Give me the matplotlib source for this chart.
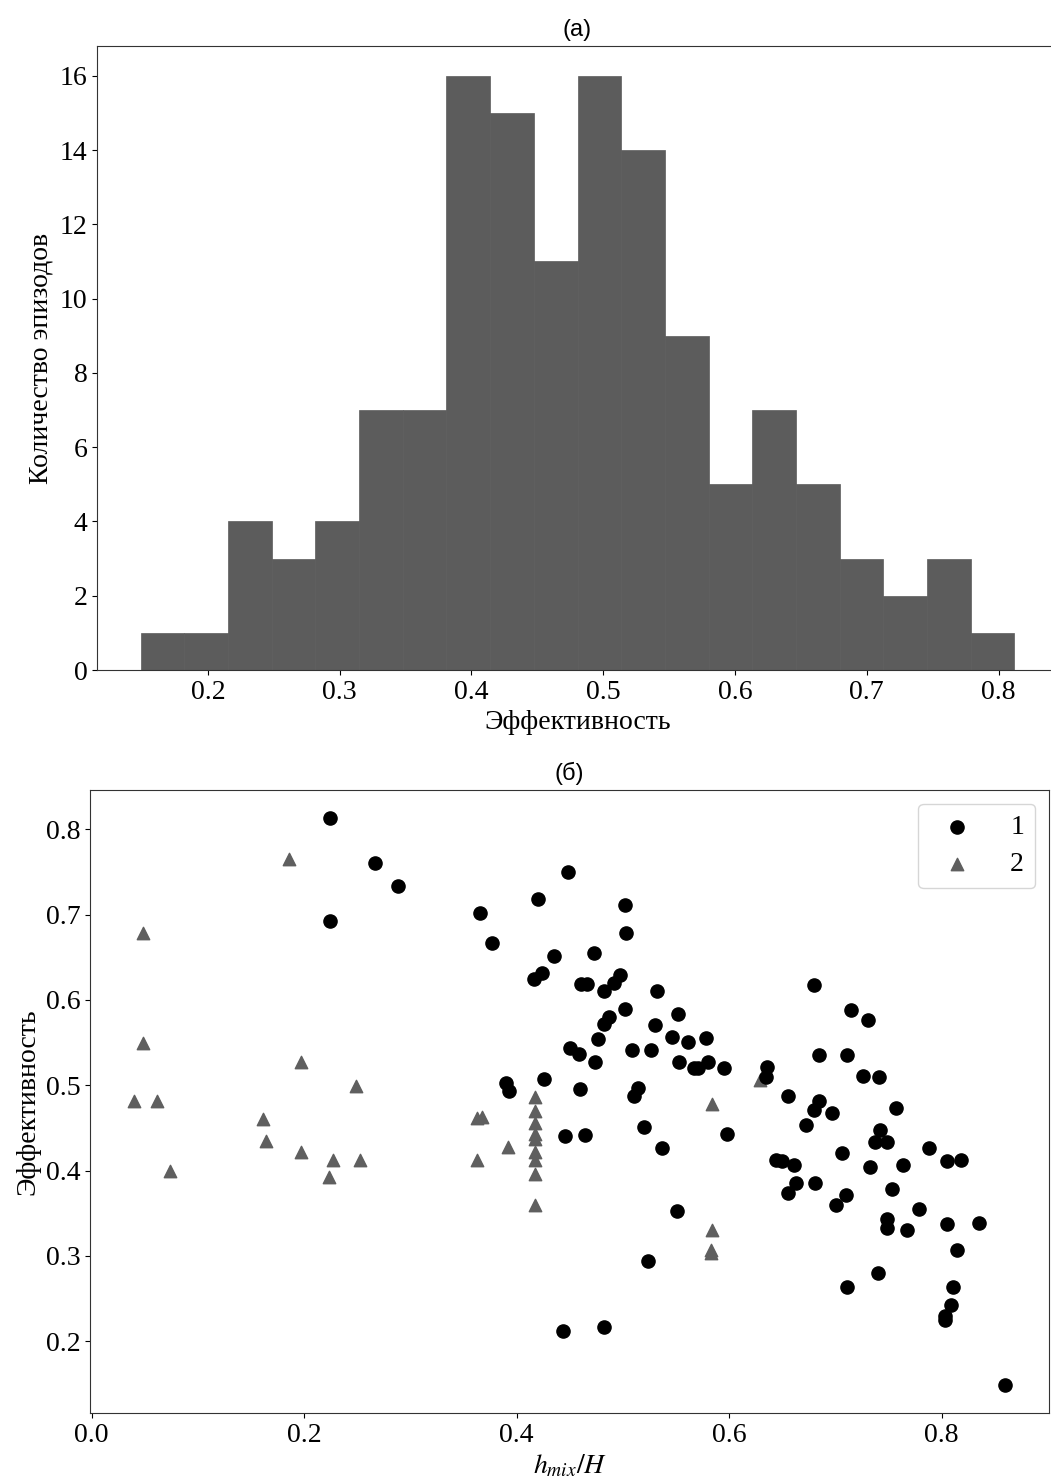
import numpy as np
import matplotlib
matplotlib.use("Agg")
import matplotlib.pyplot as plt

plt.rcParams["font.family"] = ["Liberation Serif", "DejaVu Serif"]
plt.rcParams["mathtext.fontset"] = "stix"

# (а) гистограмма эффективности: число эпизодов в 20 интервалах
counts = [1, 1, 4, 3, 4, 7, 7, 16, 15, 11, 16, 14, 9, 5, 7, 5, 3, 2, 3, 1]
eff_min, eff_max = 0.149, 0.812

# (б) эффективность от h_mix/H, группа 1 (кружки)
x1 = [0.224, 0.267, 0.288, 0.224,
      0.448, 0.420, 0.366, 0.502, 0.503, 0.377, 0.435, 0.473, 0.424, 0.416,
      0.461, 0.466, 0.482, 0.497, 0.492, 0.532, 0.502, 0.487, 0.482, 0.552,
      0.530, 0.477, 0.450, 0.459, 0.474, 0.509, 0.526, 0.546, 0.561, 0.578,
      0.553, 0.567, 0.571, 0.580, 0.595, 0.390, 0.393, 0.426, 0.460, 0.514,
      0.510, 0.520, 0.446, 0.464, 0.598,
      0.537, 0.551, 0.524, 0.444, 0.482,
      0.680, 0.715, 0.731, 0.685, 0.711, 0.636, 0.635, 0.726, 0.741, 0.655,
      0.685, 0.680, 0.697, 0.757, 0.672, 0.742, 0.737, 0.749, 0.788, 0.706,
      0.644, 0.650, 0.661, 0.733, 0.764, 0.805, 0.818, 0.663, 0.655, 0.681,
      0.753, 0.710,
      0.701, 0.779, 0.749, 0.749, 0.767, 0.805, 0.835, 0.814, 0.740, 0.711,
      0.811, 0.809, 0.803, 0.803, 0.860]
y1 = [0.813, 0.761, 0.734, 0.693,
      0.750, 0.718, 0.702, 0.711, 0.679, 0.667, 0.651, 0.655, 0.632, 0.625,
      0.619, 0.619, 0.610, 0.629, 0.620, 0.610, 0.589, 0.580, 0.572, 0.584,
      0.571, 0.554, 0.544, 0.537, 0.527, 0.541, 0.541, 0.557, 0.551, 0.555,
      0.527, 0.520, 0.520, 0.527, 0.520, 0.503, 0.493, 0.507, 0.496, 0.497,
      0.487, 0.451, 0.441, 0.442, 0.443,
      0.426, 0.353, 0.294, 0.212, 0.217,
      0.617, 0.588, 0.577, 0.535, 0.535, 0.521, 0.510, 0.511, 0.510, 0.487,
      0.481, 0.471, 0.467, 0.473, 0.453, 0.448, 0.434, 0.433, 0.426, 0.421,
      0.413, 0.411, 0.407, 0.404, 0.406, 0.411, 0.413, 0.386, 0.374, 0.385,
      0.379, 0.371,
      0.360, 0.355, 0.343, 0.333, 0.330, 0.337, 0.339, 0.307, 0.280, 0.263,
      0.264, 0.243, 0.229, 0.225, 0.149]

# группа 2 (треугольники)
x2 = [0.186, 0.048, 0.048, 0.040, 0.062, 0.074, 0.197, 0.249, 0.161, 0.164,
      0.197, 0.227, 0.223, 0.253, 0.363, 0.367, 0.363, 0.392,
      0.417, 0.417, 0.417, 0.417, 0.417, 0.417, 0.417, 0.417, 0.417,
      0.584, 0.584, 0.583, 0.583, 0.629]
y2 = [0.765, 0.678, 0.549, 0.481, 0.481, 0.400, 0.527, 0.499, 0.460, 0.435,
      0.422, 0.412, 0.393, 0.413, 0.462, 0.463, 0.412, 0.428,
      0.486, 0.470, 0.456, 0.443, 0.437, 0.422, 0.412, 0.396, 0.360,
      0.478, 0.330, 0.307, 0.303, 0.506]

fig = plt.figure(figsize=(10.51, 14.81), dpi=100)

# --- (а) ---
ax1 = fig.add_axes([0.0923, 0.5476, 0.9144, 0.4213])
edges = np.linspace(eff_min, eff_max, len(counts) + 1)
ax1.bar(edges[:-1], counts, width=np.diff(edges), align="edge",
        color="#5c5c5c", edgecolor="#5c5c5c", linewidth=0.5)
ax1.set_yticks(range(0, 17, 2))
ax1.set_xticks([0.2, 0.3, 0.4, 0.5, 0.6, 0.7, 0.8])
ax1.set_xlabel("Эффективность", fontsize=20)
ax1.set_ylabel("Количество эпизодов", fontsize=20)
ax1.set_title("(a)", fontsize=17, family="Liberation Sans", pad=7)
ax1.tick_params(labelsize=20)

# --- (б) ---
ax2 = fig.add_axes([0.0861, 0.0459, 0.912, 0.4207])
ax2.scatter(x1, y1, s=90, c="black", marker="o", label="1", zorder=3)
ax2.scatter(x2, y2, s=80, c="#5f5f5f", marker="^", label="2", zorder=2)
ax2.set_xticks([0.0, 0.2, 0.4, 0.6, 0.8])
ax2.set_yticks([0.2, 0.3, 0.4, 0.5, 0.6, 0.7, 0.8])
ax2.set_xlabel(r"$h_{mix}/H$", fontsize=20)
ax2.set_ylabel("Эффективность", fontsize=20)
ax2.set_title("(б)", fontsize=17, family="Liberation Sans", pad=7)
ax2.tick_params(labelsize=20)
ax2.legend(loc="upper right", fontsize=20, handletextpad=0.9,
           borderpad=0.4, labelspacing=0.4)

for ax in (ax1, ax2):
    for sp in ax.spines.values():
        sp.set_color("#333333")

fig.savefig("out.png", dpi=100)
